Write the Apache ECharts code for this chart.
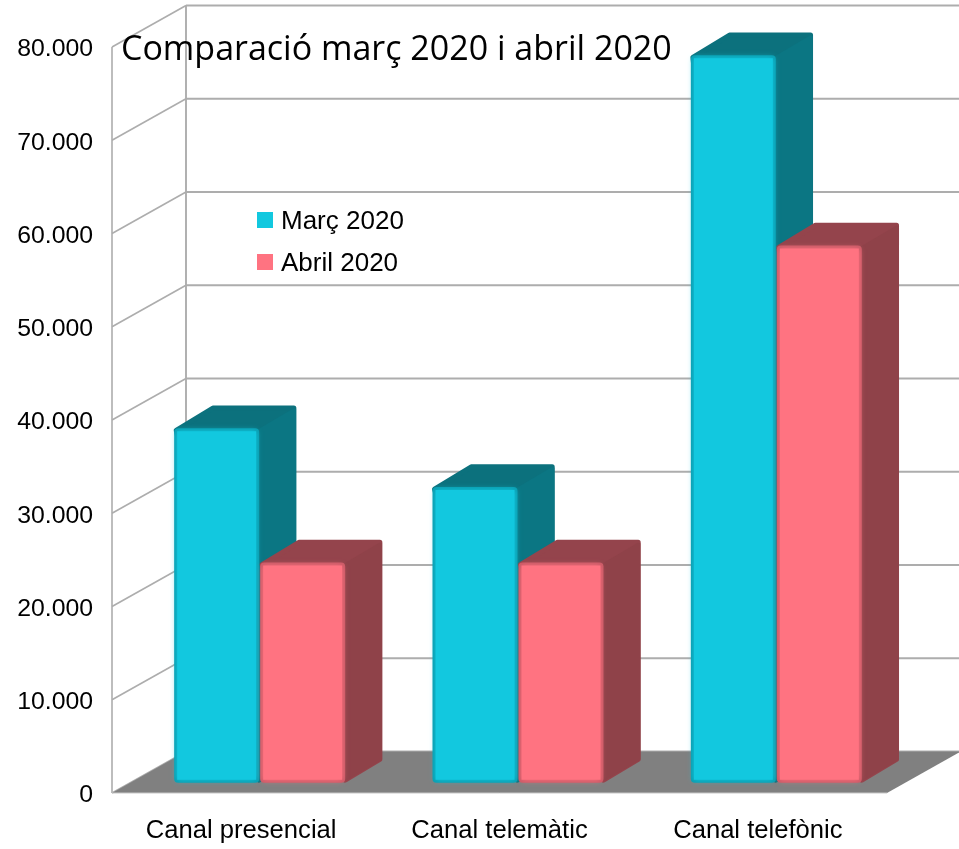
<!DOCTYPE html>
<html><head><meta charset="utf-8">
<style>html,body{margin:0;padding:0;background:#fff}#c{width:959px;height:849px}</style>
<script src="https://cdn.jsdelivr.net/npm/echarts@6/dist/echarts.min.js"></script>
</head><body><div id="c"></div>
<script>
const categories = ['Canal presencial', 'Canal telemàtic', 'Canal telefònic'];
const marc2020 = [38000, 31700, 78000];
const abril2020 = [23600, 23600, 57600];
const yTicks = [0, 10000, 20000, 30000, 40000, 50000, 60000, 70000, 80000];
const titleText = 'Comparació març 2020 i abril 2020';

const DX = 74, DY = 41.5;
const FRONT = 0.25, BACK = 0.75;
const BAR_FRAC = 0.329;
const GRID = '#adadad';

function leftEdge(api, v) {
  const p = api.coord([0, v]);
  return [p[0] - api.size([1, 0])[0] / 2, p[1]];
}

function renderWall(params, api) {
  const v = api.value(0);
  const a = leftEdge(api, v);
  const b = [a[0] + DX, a[1] - DY];
  const end = [959, b[1]];
  return { type: 'group', children: [
    { type: 'line', shape: { x1: a[0], y1: a[1], x2: b[0], y2: b[1] }, style: { stroke: GRID, lineWidth: 1.6 } },
    { type: 'line', shape: { x1: b[0], y1: b[1], x2: end[0], y2: end[1] }, style: { stroke: GRID, lineWidth: 1.9 } }
  ]};
}

function renderFrame(params, api) {
  const top = leftEdge(api, yTicks[yTicks.length - 1]);
  const bot = leftEdge(api, 0);
  const w = api.size([1, 0])[0] * categories.length;
  return { type: 'group', children: [
    { type: 'polygon', shape: { points: [bot, [bot[0] + DX, bot[1] - DY], [bot[0] + DX + w, bot[1] - DY], [bot[0] + w, bot[1]]] },
      style: { fill: '#808080' } },
    { type: 'line', shape: { x1: top[0], y1: top[1], x2: bot[0], y2: bot[1] }, style: { stroke: GRID, lineWidth: 1.6 } },
    { type: 'line', shape: { x1: top[0] + DX, y1: top[1] - DY, x2: bot[0] + DX, y2: bot[1] - DY }, style: { stroke: GRID, lineWidth: 1.9 } },
    { type: 'line', shape: { x1: bot[0], y1: bot[1], x2: bot[0] + w, y2: bot[1] }, style: { stroke: '#c8c8c8', lineWidth: 1 } }
  ]};
}

function barRenderer(offsetSign, front, edge, side, top) {
  return function (params, api) {
    const cat = api.value(0), val = api.value(1);
    const unit = api.size([1, 0])[0];
    const bw = unit * BAR_FRAC;
    const cT = api.coord([cat, val]), c0 = api.coord([cat, 0]);
    const fx = DX * FRONT, fy = DY * FRONT;
    const xL = cT[0] + fx + (offsetSign < 0 ? -bw - 0.5 : 0.5);
    const xR = xL + bw;
    const yT = cT[1] - fy, yB = c0[1] - fy;
    const ddx = DX * (BACK - FRONT) + 0.2, ddy = DY * (BACK - FRONT);
    const tY = yT - ddy - 2;
    const hw = 2.5;
    const silhouette = [[xL + 2, yT + 2], [xL + ddx + 1.5, tY + hw], [xR + ddx - hw, tY + hw],
      [xR + ddx - hw, yB - ddy - hw], [xR, yB - hw]];
    const sidePts = [[xR - 1, yT + 1], [xR + ddx - 3, tY + 3], [xR + ddx - 0.3, tY + 3.5],
      [xR + ddx - 0.3, yB - ddy - 2.5], [xR + ddx - 2, yB - ddy - 0.8], [xR - 1, yB - 1]];
    return { type: 'group', children: [
      { type: 'polygon', shape: { points: silhouette },
        style: { fill: top, stroke: top, lineWidth: hw * 2, lineJoin: 'round' } },
      { type: 'polygon', shape: { points: sidePts }, style: { fill: side } },
      { type: 'rect', shape: { x: xL, y: yT, width: bw, height: yB - yT, r: 4 }, style: { fill: edge } },
      { type: 'rect', shape: { x: xL + 3, y: yT + 3, width: bw - 6, height: yB - yT - 6 },
        style: { fill: front, shadowBlur: 6, shadowColor: front } }
    ]};
  };
}

const toPairs = (arr) => arr.map((v, i) => [i, v]);
const chart = echarts.init(document.getElementById('c'), null, { renderer: 'canvas' });
chart.setOption({
  animation: false,
  backgroundColor: '#ffffff',
  textStyle: { fontFamily: '"Liberation Sans", Arial, sans-serif' },
  title: { text: titleText, left: 121, top: 33, padding: 0,
    textStyle: { fontFamily: '"Open Sans", "Noto Sans", sans-serif', fontSize: 34, fontWeight: 'normal', color: '#000' } },
  legend: { data: ['Març 2020', 'Abril 2020'], orient: 'vertical', left: 257, top: 209, padding: 0,
    itemWidth: 16, itemHeight: 16, itemGap: 16, icon: 'rect', selectedMode: false,
    formatter: '{a|{name}}',
    textStyle: { color: '#000', rich: { a: { fontFamily: '"Liberation Sans", sans-serif', fontSize: 26, color: '#000', padding: [4, 0, 0, 3] } } } },
  grid: { left: 112, right: 72, top: 47, bottom: 56, containLabel: false },
  xAxis: { type: 'category', data: categories, axisLine: { show: false }, axisTick: { show: false },
    splitLine: { show: false },
    axisLabel: { margin: 25, fontSize: 25.6, color: '#000', interval: 0, fontFamily: '"Liberation Sans", sans-serif' } },
  yAxis: { type: 'value', min: 0, max: 80000, interval: 10000, axisLine: { show: false }, axisTick: { show: false },
    splitLine: { show: false },
    axisLabel: { margin: 19, fontSize: 24.8, color: '#000', fontFamily: '"Liberation Sans", sans-serif',
      verticalAlign: 'top', lineHeight: 5,
      formatter: (v) => String(v).replace(/\B(?=(\d{3})+$)/g, '.') } },
  series: [
    { type: 'custom', name: 'walls', z: 1, silent: true, clip: false, renderItem: renderWall,
      data: yTicks.map((v) => [v]), encode: { y: 0 } },
    { type: 'custom', name: 'frame', z: 2, silent: true, clip: false, renderItem: renderFrame,
      data: [[0]], encode: { y: 0 } },
    { type: 'custom', name: 'Març 2020', z: 3, clip: false, itemStyle: { color: '#12C8DF' },
      renderItem: barRenderer(-1, '#12C8DF', '#0B9CAF', '#0B7683', '#0C717D'),
      data: toPairs(marc2020), encode: { x: 0, y: 1 } },
    { type: 'custom', name: 'Abril 2020', z: 4, clip: false, itemStyle: { color: '#FF7381' },
      renderItem: barRenderer(1, '#FF7381', '#C95A66', '#8F4249', '#94444C'),
      data: toPairs(abril2020), encode: { x: 0, y: 1 } }
  ]
});
</script></body></html>
